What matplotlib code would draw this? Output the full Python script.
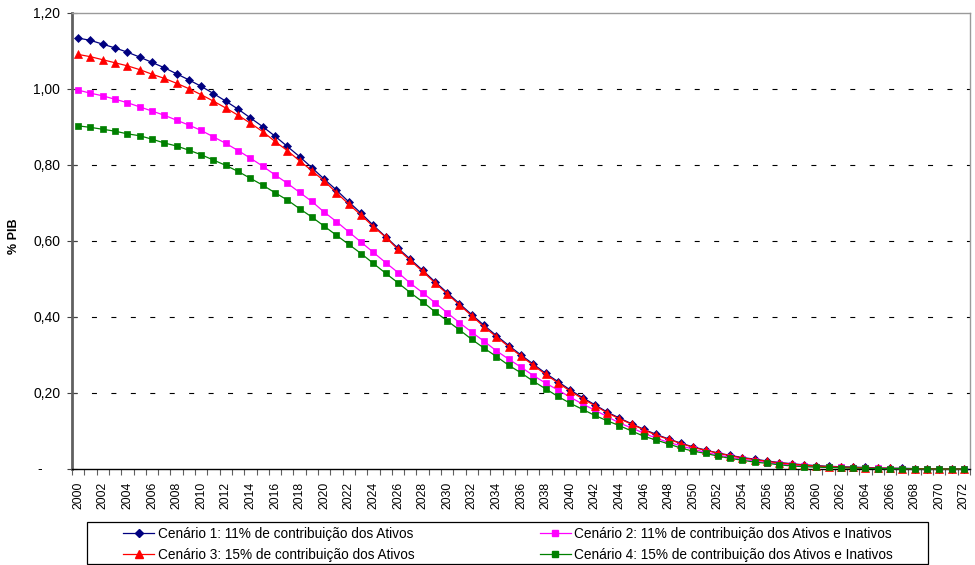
import matplotlib
matplotlib.use("Agg")
import matplotlib.pyplot as plt
from matplotlib.lines import Line2D
from matplotlib.patches import Rectangle
from matplotlib.ticker import FixedLocator, FuncFormatter

plt.rcParams['font.family'] = ['Liberation Sans', 'DejaVu Sans']

years = list(range(2000, 2073))

cenario_1 = [1.134, 1.128, 1.118, 1.108, 1.097, 1.084, 1.070, 1.056, 1.040, 1.024,
             1.007, 0.988, 0.968, 0.947, 0.924, 0.901, 0.876, 0.849, 0.822, 0.793,
             0.763, 0.734, 0.703, 0.673, 0.641, 0.611, 0.581, 0.552, 0.523, 0.493,
             0.464, 0.435, 0.406, 0.378, 0.351, 0.325, 0.300, 0.276, 0.252, 0.230,
             0.208, 0.188, 0.169, 0.150, 0.134, 0.119, 0.104, 0.091, 0.079, 0.068,
             0.058, 0.050, 0.042, 0.036, 0.030, 0.026, 0.021, 0.017, 0.014, 0.011,
             0.009, 0.007, 0.006, 0.005, 0.004, 0.003, 0.002, 0.002, 0.001, 0.001,
             0.001, 0.001, 0.000]

cenario_2 = [0.997, 0.989, 0.982, 0.973, 0.964, 0.953, 0.942, 0.931, 0.918, 0.905,
             0.891, 0.874, 0.857, 0.838, 0.818, 0.797, 0.774, 0.752, 0.728, 0.704,
             0.676, 0.651, 0.624, 0.597, 0.570, 0.543, 0.517, 0.489, 0.464, 0.438,
             0.411, 0.385, 0.360, 0.336, 0.311, 0.289, 0.268, 0.246, 0.226, 0.208,
             0.189, 0.171, 0.155, 0.138, 0.121, 0.108, 0.094, 0.081, 0.070, 0.061,
             0.052, 0.044, 0.037, 0.031, 0.026, 0.021, 0.017, 0.013, 0.010, 0.008,
             0.006, 0.005, 0.004, 0.003, 0.002, 0.002, 0.001, 0.001, 0.001, 0.000,
             0.000, 0.000, 0.000]

cenario_3 = [1.091, 1.085, 1.077, 1.069, 1.061, 1.051, 1.039, 1.028, 1.015, 1.001,
             0.985, 0.968, 0.950, 0.931, 0.910, 0.888, 0.862, 0.838, 0.811, 0.785,
             0.758, 0.727, 0.697, 0.668, 0.638, 0.610, 0.578, 0.549, 0.520, 0.490,
             0.461, 0.432, 0.403, 0.374, 0.348, 0.322, 0.297, 0.273, 0.249, 0.227,
             0.205, 0.185, 0.167, 0.148, 0.132, 0.118, 0.103, 0.089, 0.078, 0.067,
             0.057, 0.049, 0.042, 0.035, 0.029, 0.025, 0.020, 0.016, 0.013, 0.010,
             0.008, 0.006, 0.005, 0.004, 0.003, 0.002, 0.002, 0.001, 0.001, 0.001,
             0.000, 0.000, 0.000]

cenario_4 = [0.903, 0.899, 0.894, 0.889, 0.882, 0.877, 0.868, 0.858, 0.850, 0.839,
             0.827, 0.813, 0.799, 0.783, 0.765, 0.747, 0.727, 0.708, 0.685, 0.663,
             0.639, 0.615, 0.591, 0.567, 0.541, 0.515, 0.490, 0.464, 0.440, 0.414,
             0.390, 0.366, 0.341, 0.318, 0.296, 0.273, 0.253, 0.231, 0.211, 0.191,
             0.173, 0.157, 0.141, 0.127, 0.114, 0.100, 0.086, 0.076, 0.066, 0.055,
             0.047, 0.041, 0.034, 0.028, 0.023, 0.018, 0.015, 0.011, 0.008, 0.006,
             0.005, 0.004, 0.003, 0.002, 0.002, 0.001, 0.001, 0.001, 0.000, 0.000,
             0.000, 0.000, 0.000]

labels = [
    "Cenário 1: 11% de contribuição dos Ativos",
    "Cenário 2: 11% de contribuição dos Ativos e Inativos",
    "Cenário 3: 15% de contribuição dos Ativos",
    "Cenário 4: 15% de contribuição dos Ativos e Inativos",
]
y_ticks = [0.0, 0.2, 0.4, 0.6, 0.8, 1.0, 1.2]
y_label = "% PIB"

fig = plt.figure(figsize=(9.75, 5.65), dpi=100)
ax = fig.add_axes([72 / 975, 1 - 469 / 565, 898 / 975, (469 - 13) / 565])

styles = [
    dict(color="#000080", marker="D", ms=4.3),
    dict(color="#FF00FF", marker="s", ms=4.8),
    dict(color="#FF0000", marker="^", ms=5.5),
    dict(color="#008000", marker="s", ms=4.6),
]
series = [cenario_1, cenario_2, cenario_3, cenario_4]
handles = []
for vals, st, lab in zip(series, styles, labels):
    h, = ax.plot(years, vals, color=st["color"], lw=0.9, marker=st["marker"],
                 ms=st["ms"], mfc=st["color"], mec=st["color"], mew=0.5,
                 label=lab, zorder=3, clip_on=False)
    handles.append(h)

ax.set_xlim(years[0] - 0.5, years[-1] + 0.5)
ax.set_ylim(0, 1.2)

# Horizontal dashed gridlines
for yv in y_ticks[1:-1]:
    ax.axhline(yv, color="black", lw=0.8, ls=(0, (4.5, 13)), zorder=1)

ax.yaxis.set_major_locator(FixedLocator(y_ticks))
ax.yaxis.set_major_formatter(FuncFormatter(
    lambda v, p: "" if abs(v) < 1e-9 else f"{v:.2f}".replace(".", ",")))
ax.tick_params(axis="y", direction="inout", length=7, width=0.8, pad=5,
               labelsize=10, color="#404040")
# zero shown as a dash, as in accounting format
ax.annotate("-", xy=(0, 0), xycoords="axes fraction", xytext=(-23, 0),
            textcoords="offset points", ha="center", va="center", fontsize=10)

ax.xaxis.set_major_locator(FixedLocator(years[::2]))
ax.xaxis.set_major_formatter(FuncFormatter(lambda v, p: f"{int(round(v))}"))
ax.xaxis.set_minor_locator(FixedLocator([y - 0.5 for y in years] + [years[-1] + 0.5]))
ax.tick_params(axis="x", which="major", length=0, pad=9, labelsize=8.8,
               labelrotation=90)
ax.tick_params(axis="x", which="minor", direction="out", length=4, width=0.8,
               color="#606060")

ax.spines["left"].set_color("#606060")
ax.spines["left"].set_linewidth(2.0)
ax.spines["bottom"].set_color("black")
ax.spines["bottom"].set_linewidth(1.0)
ax.spines["top"].set_color("#9a9a9a")
ax.spines["top"].set_linewidth(1.0)
ax.spines["right"].set_color("#9a9a9a")
ax.spines["right"].set_linewidth(1.0)

ax.set_ylabel(y_label, fontsize=9, fontweight="bold")
ax.yaxis.label.set_verticalalignment("center")
ax.yaxis.set_label_coords((14 - 72) / 898, (469 - 236) / 456)

# Legend frame and entries (row order: 1, 2 / 3, 4)
fig.patches.append(Rectangle((87 / 975, 1 - 564 / 565), (928 - 87) / 975, (564 - 522) / 565,
                             transform=fig.transFigure, fill=False, edgecolor="black",
                             lw=0.9))
leg_order = [0, 2, 1, 3]
leg_handles = [Line2D([], [], color=handles[i].get_color(), marker=handles[i].get_marker(),
                      ms=handles[i].get_markersize(), mfc=handles[i].get_color(),
                      mec=handles[i].get_color(), lw=0.9)
               for i in leg_order]
fig.legend(leg_handles, [labels[i] for i in leg_order],
           ncol=2, mode="expand", frameon=False, fontsize=9.8,
           bbox_to_anchor=(123 / 975, 1 - 566 / 565, (893 - 123) / 975, (566 - 523) / 565),
           loc="center", handlelength=2.3, handletextpad=0.25, borderpad=0,
           labelspacing=0.5, borderaxespad=0)

fig.savefig("out.png", dpi=100)
